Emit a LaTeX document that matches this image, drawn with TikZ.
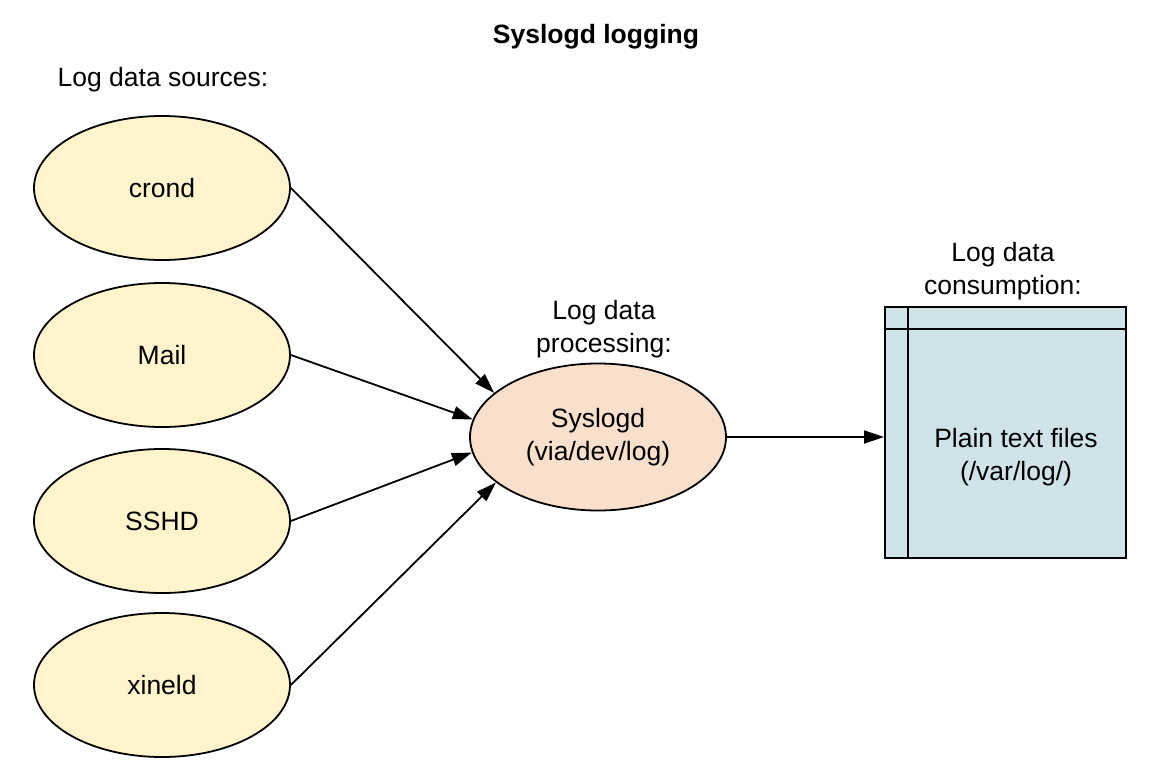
\documentclass[tikz,border=0pt]{standalone}
\usepackage{fontspec}
\setmainfont{Liberation Sans}
\usetikzlibrary{shapes.geometric,arrows.meta}
\definecolor{srcfill}{HTML}{FFF4CC}
\definecolor{sysfill}{HTML}{F9E0CC}
\definecolor{boxfill}{HTML}{CFE3E9}
\tikzset{
  txt/.style={font=\fontsize{26.5}{33}\selectfont, align=center, inner sep=0pt},
  src/.style={ellipse, draw, line width=1.8pt, fill=srcfill, minimum width=256pt, minimum height=144pt, inner sep=0pt, txt},
  proc/.style={ellipse, draw, line width=1.8pt, fill=sysfill, minimum width=256pt, minimum height=147pt, inner sep=0pt, txt},
  conn/.style={line width=1.8pt, -{Triangle[length=20pt,width=13pt]}},
}
\begin{document}
\begin{tikzpicture}[x=1pt,y=-1pt]
\useasboundingbox (0,0) rectangle (1156,784);
\node[txt, font=\fontsize{26.5}{33}\selectfont\bfseries] (title) at (596,37) {Syslogd logging};
\node[txt] (srclbl) at (163,80) {Log data sources:};
\node[txt] (proclbl) at (604,329) {Log data\\processing:};
\node[txt] (conslbl) at (1003,271) {Log data\\consumption:};

\node[src] (crond) at (162,188) {crond};
\node[src] (mail) at (162,355) {Mail};
\node[src] (sshd) at (162,521) {SSHD};
\node[src] (xineld) at (162,685) {xineld};

\node[proc] (sys) at (598,437) {Syslogd\\(via/dev/log)};

\node[draw, line width=1.8pt, fill=boxfill, minimum width=241pt, minimum height=251pt, inner sep=0pt, anchor=north west] (box) at (884,306) {};
\draw[line width=1.8pt] (908,306) coordinate (vtop) -- (vtop |- box.south);
\draw[line width=1.8pt] (box.west |- 0,329) coordinate (hl) -- (hl -| box.east);
\node[txt] (files) at (1016,457) {Plain text files\\(/var/log/)};

\draw[conn] (crond.east) -- (sys.157);
\draw[conn] (mail.east) -- (sys.172);
\draw[conn] (sshd.east) -- (sys.187);
\draw[conn] (xineld.east) -- (sys.204);
\draw[conn] (sys.east) -- (sys.east -| box.west);
\end{tikzpicture}
\end{document}
